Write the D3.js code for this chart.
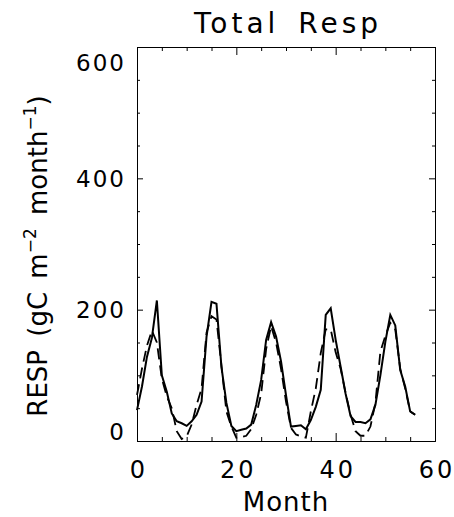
<!DOCTYPE html>
<html>
<head>
<meta charset="utf-8">
<script src="https://cdn.jsdelivr.net/npm/d3@7"></script>
<style>
  body { margin: 0; background: #fff; }
  svg { display: block; font-family: 'DejaVu Sans', sans-serif; }
</style>
</head>
<body>
<div id="chart"></div>
<script>
// monthly total respiration, two runs (solid / dashed)
let respSolid = [47, 83, 128, 157, 214, 100, 75, 42, 30, 27, 23, 30, 40, 60, 159, 212, 209, 113, 58, 23,
    15, 17, 19, 25, 55, 93, 154, 181, 159, 121, 70, 22, 23, 24, 18, 32, 52, 78, 192, 202,
    154, 113, 72, 38, 29, 29, 27, 33, 55, 100, 151, 192, 176, 108, 83, 45, 40]
let respDashed = [70, 110, 145, 168, 150, 95, 68, 50, 15, 3, 7, 25, 55, 80, 165, 190, 185, 115, 45, 22,
    5, 6, 8, 18, 40, 72, 140, 175, 150, 110, 60, 20, 10, 7, 5, 45, 80, 134, 170, 170,
    135, 110, 73, 40, 15, 8, 8, 22, 58, 136, 160, 180, 170, 110, 80, 45, 40]
let xMajor = [0, 20, 40, 60]
let xMinor = [5, 10, 15, 25, 30, 35, 45, 50, 55]
let yMajor = [0, 200, 400, 600]
let yMinor = [50, 100, 150, 250, 300, 350, 450, 500, 550]

let svgWidth = 454,
    svgHeight = 517,
    margin = { top: 47, right: 19, bottom: 76, left: 137 },
    chartWidth = svgWidth - margin.left - margin.right,
    chartHeight = svgHeight - margin.top - margin.bottom

let svg = d3.select('#chart')
    .append('svg')
    .attr('width', svgWidth)
    .attr('height', svgHeight)

let x = d3.scaleLinear().domain([0, 60]).range([0, chartWidth])
let y = d3.scaleLinear().domain([0, 600]).range([chartHeight, 0])

let g = svg.append('g')
    .attr('transform', `translate(${margin.left},${margin.top})`)

// helper to style an axis group
function styleAxis(sel) {
    sel.selectAll('path, line').attr('stroke', '#000').attr('stroke-width', 1)
}

// bottom axis (labels + major ticks), minor ticks on their own
g.append('g')
    .attr('transform', `translate(0,${chartHeight})`)
    .call(d3.axisBottom(x).tickValues(xMajor).tickSizeInner(-8).tickSizeOuter(0).tickPadding(20).tickFormat(d3.format('d')))
    .call(styleAxis)
    .call(a => a.selectAll('text')
        .attr('font-size', 24)
        .attr('fill', '#000')
        .attr('font-family', 'DejaVu Sans')
        .attr('letter-spacing', 3)
        .attr('dx', 1.5))
g.append('g')
    .attr('transform', `translate(0,${chartHeight})`)
    .call(d3.axisBottom(x).tickValues(xMinor).tickSizeInner(-4).tickSizeOuter(0).tickFormat(''))
    .call(styleAxis)

// top axis, ticks only
g.append('g')
    .call(d3.axisTop(x).tickValues(xMajor).tickSizeInner(-8).tickSizeOuter(0).tickFormat(''))
    .call(styleAxis)
g.append('g')
    .call(d3.axisTop(x).tickValues(xMinor).tickSizeInner(-4).tickSizeOuter(0).tickFormat(''))
    .call(styleAxis)

// left axis
g.append('g')
    .call(d3.axisLeft(y).tickValues(yMajor).tickSizeInner(-6).tickSizeOuter(0).tickPadding(11).tickFormat(d3.format('d')))
    .call(styleAxis)
    .call(a => a.selectAll('text')
        .attr('font-size', 23)
        .attr('fill', '#000')
        .attr('font-family', 'DejaVu Sans')
        .attr('letter-spacing', 2)
        .attr('dy', d => d === 600 ? '1.0em' : d === 0 ? '-0.05em' : '0.34em'))
g.append('g')
    .call(d3.axisLeft(y).tickValues(yMinor).tickSizeInner(-3).tickSizeOuter(0).tickFormat(''))
    .call(styleAxis)

// right axis, ticks only
g.append('g')
    .attr('transform', `translate(${chartWidth},0)`)
    .call(d3.axisRight(y).tickValues(yMajor).tickSizeInner(-6).tickSizeOuter(0).tickFormat(''))
    .call(styleAxis)
g.append('g')
    .attr('transform', `translate(${chartWidth},0)`)
    .call(d3.axisRight(y).tickValues(yMinor).tickSizeInner(-3).tickSizeOuter(0).tickFormat(''))
    .call(styleAxis)

// the two lines
let line = d3.line()
    .x((d, i) => x(i))
    .y(d => y(d))

g.append('path')
    .datum(respDashed)
    .attr('fill', 'none')
    .attr('stroke', '#000')
    .attr('stroke-width', 1.8)
    .attr('stroke-dasharray', '11,6')
    .attr('d', line)

g.append('path')
    .datum(respSolid)
    .attr('fill', 'none')
    .attr('stroke', '#000')
    .attr('stroke-width', 2)
    .attr('stroke-linejoin', 'miter')
    .attr('d', line)

// title and axis titles
svg.append('text')
    .attr('x', margin.left + chartWidth / 2 + 2)
    .attr('y', 33)
    .attr('text-anchor', 'middle')
    .attr('font-size', 28)
    .attr('letter-spacing', 4)
    .attr('word-spacing', 6)
    .text('Total Resp')

svg.append('text')
    .attr('x', margin.left + chartWidth / 2)
    .attr('y', 511)
    .attr('text-anchor', 'middle')
    .attr('font-size', 26)
    .attr('letter-spacing', 1)
    .text('Month')

let yTitle = svg.append('text')
    .attr('transform', `translate(47,${margin.top + chartHeight / 2 + 12}) rotate(-90)`)
    .attr('text-anchor', 'middle')
    .attr('font-size', 26)
    .attr('word-spacing', 5)
yTitle.append('tspan').text('RESP (gC m')
yTitle.append('tspan').attr('dy', -11).attr('font-size', 17).text('\u22122')
yTitle.append('tspan').attr('dy', 11).text(' month')
yTitle.append('tspan').attr('dy', -11).attr('font-size', 17).text('\u22121')
yTitle.append('tspan').attr('dy', 11).text(')')
</script>
</body>
</html>
